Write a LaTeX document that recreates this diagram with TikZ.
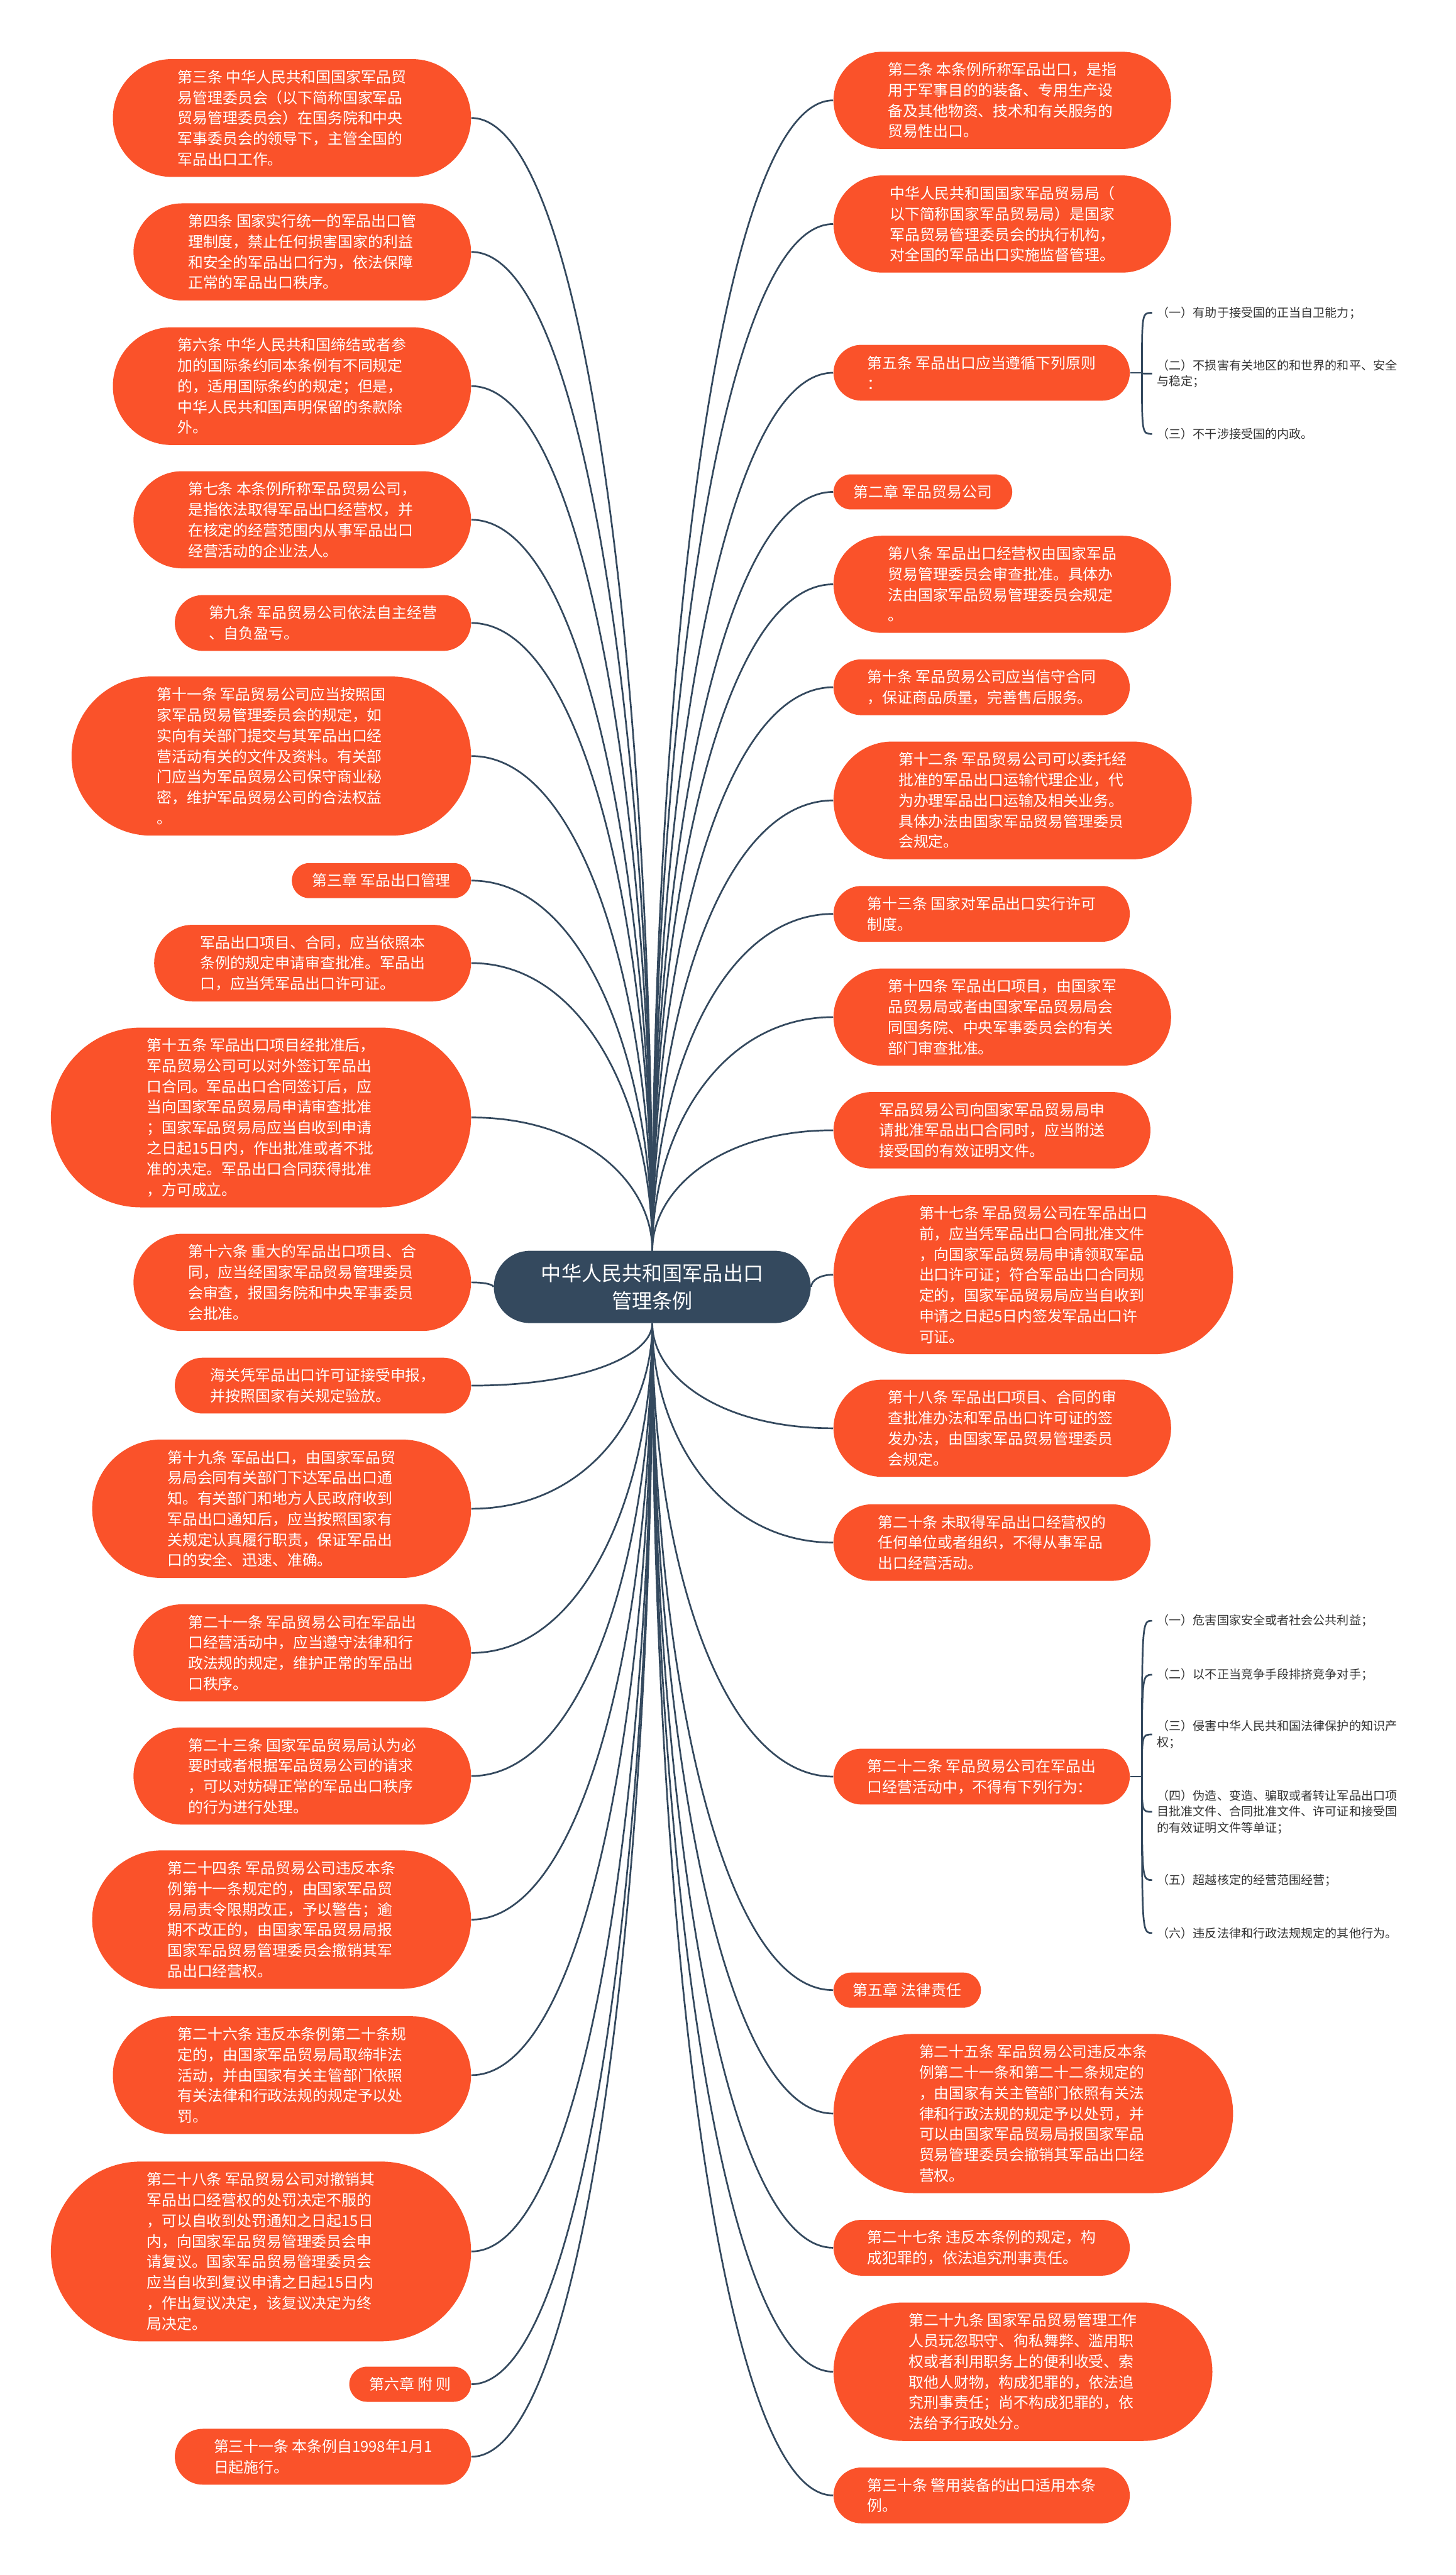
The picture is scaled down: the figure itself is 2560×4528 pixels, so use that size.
\documentclass[tikz,border=0pt]{standalone}
\usepackage{fontspec}
\setmainfont{Noto Sans CJK SC}
\usepackage{tikz}
\usetikzlibrary{calc,shapes.misc}
\definecolor{leaf}{HTML}{FA522A}
\definecolor{slate}{HTML}{34495E}
\definecolor{twigtext}{HTML}{333333}

\begin{document}
\begin{tikzpicture}[
  x=0.01cm,y=-0.01cm,
  box/.style={rounded rectangle,fill=leaf,text=white,align=left,inner sep=0pt,
              font=\fontsize{7.5pt}{10.3pt}\selectfont},
  lines/.style={minimum height=0.255cm+#1*0.363cm,minimum width=4.48cm+#1*0.363cm},
  lbox/.style={box,anchor=east},
  rbox/.style={box,anchor=west},
  item/.style={anchor=west,align=left,inner xsep=0.08cm,inner ysep=0pt,text=twigtext,
               font=\fontsize{6pt}{8pt}\selectfont},
  link/.style={draw=slate,line width=0.85pt,
               to path={.. controls ($(\tikztostart)!0.5!(\tikztostart|-\tikztotarget)$)
                        and ($(\tikztostart|-\tikztotarget)!0.37!(\tikztotarget)$) .. (\tikztotarget)}},
  twig/.style={draw=slate,line width=0.85pt,
               to path={.. controls (\tikztostart|-\tikztotarget) .. (\tikztotarget)}}
]
  \fill[white] (0,0) rectangle (2560,4528);
  \useasboundingbox (0,0) rectangle (2560,4528);

  \node[rounded rectangle,fill=slate,text=white,align=center,inner sep=0pt,
        minimum width=5.57cm,minimum height=1.27cm,
        font=\fontsize{10.1pt}{13.9pt}\selectfont] (root) at (1147,2263) {中华人民共和国军品出口\\管理条例};

  \node[lbox,lines=5] (l1) at (829,207.5) {第三条 中华人民共和国国家军品贸\\易管理委员会（以下简称国家军品\\贸易管理委员会）在国务院和中央\\军事委员会的领导下，主管全国的\\军品出口工作。};
  \node[lbox,lines=4] (l2) at (829,443) {第四条 国家实行统一的军品出口管\\理制度，禁止任何损害国家的利益\\和安全的军品出口行为，依法保障\\正常的军品出口秩序。};
  \node[lbox,lines=5] (l3) at (829,679) {第六条 中华人民共和国缔结或者参\\加的国际条约同本条例有不同规定\\的，适用国际条约的规定；但是，\\中华人民共和国声明保留的条款除\\外。};
  \node[lbox,lines=4] (l4) at (829,914) {第七条 本条例所称军品贸易公司，\\是指依法取得军品出口经营权，并\\在核定的经营范围内从事军品出口\\经营活动的企业法人。};
  \node[lbox,lines=2] (l5) at (829,1095.5) {第九条 军品贸易公司依法自主经营\\、自负盈亏。};
  \node[lbox,lines=7] (l6) at (829,1329.5) {第十一条 军品贸易公司应当按照国\\家军品贸易管理委员会的规定，如\\实向有关部门提交与其军品出口经\\营活动有关的文件及资料。有关部\\门应当为军品贸易公司保守商业秘\\密，维护军品贸易公司的合法权益\\。};
  \node[lbox,lines=1,minimum width=3.15cm] (l7) at (829,1548.5) {第三章 军品出口管理};
  \node[lbox,lines=3] (l8) at (829,1693.5) {军品出口项目、合同，应当依照本\\条例的规定申请审查批准。军品出\\口，应当凭军品出口许可证。};
  \node[lbox,lines=8] (l9) at (829,1965) {第十五条 军品出口项目经批准后，\\军品贸易公司可以对外签订军品出\\口合同。军品出口合同签订后，应\\当向国家军品贸易局申请审查批准\\；国家军品贸易局应当自收到申请\\之日起15日内，作出批准或者不批\\准的决定。军品出口合同获得批准\\，方可成立。};
  \node[lbox,lines=4] (l10) at (829,2255) {第十六条 重大的军品出口项目、合\\同，应当经国家军品贸易管理委员\\会审查，报国务院和中央军事委员\\会批准。};
  \node[lbox,lines=2] (l11) at (829,2436.5) {海关凭军品出口许可证接受申报，\\并按照国家有关规定验放。};
  \node[lbox,lines=6] (l12) at (829,2653) {第十九条 军品出口，由国家军品贸\\易局会同有关部门下达军品出口通\\知。有关部门和地方人民政府收到\\军品出口通知后，应当按照国家有\\关规定认真履行职责，保证军品出\\口的安全、迅速、准确。};
  \node[lbox,lines=4] (l13) at (829,2906.5) {第二十一条 军品贸易公司在军品出\\口经营活动中，应当遵守法律和行\\政法规的规定，维护正常的军品出\\口秩序。};
  \node[lbox,lines=4] (l14) at (829,3123) {第二十三条 国家军品贸易局认为必\\要时或者根据军品贸易公司的请求\\，可以对妨碍正常的军品出口秩序\\的行为进行处理。};
  \node[lbox,lines=6] (l15) at (829,3375.5) {第二十四条 军品贸易公司违反本条\\例第十一条规定的，由国家军品贸\\易局责令限期改正，予以警告；逾\\期不改正的，由国家军品贸易局报\\国家军品贸易管理委员会撤销其军\\品出口经营权。};
  \node[lbox,lines=5] (l16) at (829,3649) {第二十六条 违反本条例第二十条规\\定的，由国家军品贸易局取缔非法\\活动，并由国家有关主管部门依照\\有关法律和行政法规的规定予以处\\罚。};
  \node[lbox,lines=8] (l17) at (829,3959) {第二十八条 军品贸易公司对撤销其\\军品出口经营权的处罚决定不服的\\，可以自收到处罚通知之日起15日\\内，向国家军品贸易管理委员会申\\请复议。国家军品贸易管理委员会\\应当自收到复议申请之日起15日内\\，作出复议决定，该复议决定为终\\局决定。};
  \node[lbox,lines=1,minimum width=2.14cm] (l18) at (829,4192.5) {第六章 附 则};
  \node[lbox,lines=2] (l19) at (829,4320) {第三十一条 本条例自1998年1月1\\日起施行。};

  \node[rbox,lines=4] (r1) at (1465,176.5) {第二条 本条例所称军品出口，是指\\用于军事目的的装备、专用生产设\\备及其他物资、技术和有关服务的\\贸易性出口。};
  \node[rbox,lines=4] (r2) at (1465,394) {中华人民共和国国家军品贸易局（\\以下简称国家军品贸易局）是国家\\军品贸易管理委员会的执行机构，\\对全国的军品出口实施监督管理。};
  \node[rbox,lines=2] (r3) at (1465,655.5) {第五条 军品出口应当遵循下列原则\\：};
  \node[rbox,lines=1,minimum width=3.14cm] (r4) at (1465,865) {第二章 军品贸易公司};
  \node[rbox,lines=4] (r5) at (1465,1027.5) {第八条 军品出口经营权由国家军品\\贸易管理委员会审查批准。具体办\\法由国家军品贸易管理委员会规定\\。};
  \node[rbox,lines=2] (r6) at (1465,1208.5) {第十条 军品贸易公司应当信守合同\\，保证商品质量，完善售后服务。};
  \node[rbox,lines=5] (r7) at (1465,1407.5) {第十二条 军品贸易公司可以委托经\\批准的军品出口运输代理企业，代\\为办理军品出口运输及相关业务。\\具体办法由国家军品贸易管理委员\\会规定。};
  \node[rbox,lines=2] (r8) at (1465,1607) {第十三条 国家对军品出口实行许可\\制度。};
  \node[rbox,lines=4] (r9) at (1465,1788.5) {第十四条 军品出口项目，由国家军\\品贸易局或者由国家军品贸易局会\\同国务院、中央军事委员会的有关\\部门审查批准。};
  \node[rbox,lines=3] (r10) at (1465,1987.5) {军品贸易公司向国家军品贸易局申\\请批准军品出口合同时，应当附送\\接受国的有效证明文件。};
  \node[rbox,lines=7] (r11) at (1465,2241.5) {第十七条 军品贸易公司在军品出口\\前，应当凭军品出口合同批准文件\\，向国家军品贸易局申请领取军品\\出口许可证；符合军品出口合同规\\定的，国家军品贸易局应当自收到\\申请之日起5日内签发军品出口许\\可证。};
  \node[rbox,lines=4] (r12) at (1465,2511.5) {第十八条 军品出口项目、合同的审\\查批准办法和军品出口许可证的签\\发办法，由国家军品贸易管理委员\\会规定。};
  \node[rbox,lines=3] (r13) at (1465,2712.5) {第二十条 未取得军品出口经营权的\\任何单位或者组织，不得从事军品\\出口经营活动。};
  \node[rbox,lines=2] (r14) at (1465,3124) {第二十二条 军品贸易公司在军品出\\口经营活动中，不得有下列行为：};
  \node[rbox,lines=1,minimum width=2.59cm] (r15) at (1465,3499.5) {第五章 法律责任};
  \node[rbox,lines=7] (r16) at (1465,3716.5) {第二十五条 军品贸易公司违反本条\\例第二十一条和第二十二条规定的\\，由国家有关主管部门依照有关法\\律和行政法规的规定予以处罚，并\\可以由国家军品贸易局报国家军品\\贸易管理委员会撤销其军品出口经\\营权。};
  \node[rbox,lines=2] (r17) at (1465,3952.5) {第二十七条 违反本条例的规定，构\\成犯罪的，依法追究刑事责任。};
  \node[rbox,lines=6] (r18) at (1465,4170.5) {第二十九条 国家军品贸易管理工作\\人员玩忽职守、徇私舞弊、滥用职\\权或者利用职务上的便利收受、索\\取他人财物，构成犯罪的，依法追\\究刑事责任；尚不构成犯罪的，依\\法给予行政处分。};
  \node[rbox,lines=2] (r19) at (1465,4388) {第三十条 警用装备的出口适用本条\\例。};

  \node[item] (r3a) at (2026,550) {（一）有助于接受国的正当自卫能力；};
  \node[item] (r3b) at (2026,657) {（二）不损害有关地区的和世界的和平、安全\\与稳定；};
  \node[item] (r3c) at (2026,763) {（三）不干涉接受国的内政。};
  \node[item] (r14a) at (2026,2850) {（一）危害国家安全或者社会公共利益；};
  \node[item] (r14b) at (2026,2945) {（二）以不正当竞争手段排挤竞争对手；};
  \node[item] (r14c) at (2026,3050) {（三）侵害中华人民共和国法律保护的知识产\\权；};
  \node[item] (r14d) at (2026,3186) {（四）伪造、变造、骗取或者转让军品出口项\\目批准文件、合同批准文件、许可证和接受国\\的有效证明文件等单证；};
  \node[item] (r14e) at (2026,3306) {（五）超越核定的经营范围经营；};
  \node[item] (r14f) at (2026,3399) {（六）违反法律和行政法规规定的其他行为。};
  \coordinate (j3) at (2008,655.5);
  \coordinate (j14) at (2008,3124);

  \draw[link] (root.north) to (l1.east);
  \draw[link] (root.north) to (l2.east);
  \draw[link] (root.north) to (l3.east);
  \draw[link] (root.north) to (l4.east);
  \draw[link] (root.north) to (l5.east);
  \draw[link] (root.north) to (l6.east);
  \draw[link] (root.north) to (l7.east);
  \draw[link] (root.north) to (l8.east);
  \draw[link] (root.north) to (l9.east);
  \draw[link] (root.west) to (l10.east);
  \draw[link] (root.south) to (l11.east);
  \draw[link] (root.south) to (l12.east);
  \draw[link] (root.south) to (l13.east);
  \draw[link] (root.south) to (l14.east);
  \draw[link] (root.south) to (l15.east);
  \draw[link] (root.south) to (l16.east);
  \draw[link] (root.south) to (l17.east);
  \draw[link] (root.south) to (l18.east);
  \draw[link] (root.south) to (l19.east);
  \draw[link] (root.north) to (r1.west);
  \draw[link] (root.north) to (r2.west);
  \draw[link] (root.north) to (r3.west);
  \draw[link] (root.north) to (r4.west);
  \draw[link] (root.north) to (r5.west);
  \draw[link] (root.north) to (r6.west);
  \draw[link] (root.north) to (r7.west);
  \draw[link] (root.north) to (r8.west);
  \draw[link] (root.north) to (r9.west);
  \draw[link] (root.north) to (r10.west);
  \draw[link] (root.east) to (r11.west);
  \draw[link] (root.south) to (r12.west);
  \draw[link] (root.south) to (r13.west);
  \draw[link] (root.south) to (r14.west);
  \draw[link] (root.south) to (r15.west);
  \draw[link] (root.south) to (r16.west);
  \draw[link] (root.south) to (r17.west);
  \draw[link] (root.south) to (r18.west);
  \draw[link] (root.south) to (r19.west);

  \draw[slate,line width=0.85pt] (r3.east) -- (j3);
  \draw[twig] (j3) to (r3a.west);
  \draw[twig] (j3) to (r3b.west);
  \draw[twig] (j3) to (r3c.west);
  \draw[slate,line width=0.85pt] (r14.east) -- (j14);
  \draw[twig] (j14) to (r14a.west);
  \draw[twig] (j14) to (r14b.west);
  \draw[twig] (j14) to (r14c.west);
  \draw[twig] (j14) to (r14d.west);
  \draw[twig] (j14) to (r14e.west);
  \draw[twig] (j14) to (r14f.west);
\end{tikzpicture}
\end{document}
